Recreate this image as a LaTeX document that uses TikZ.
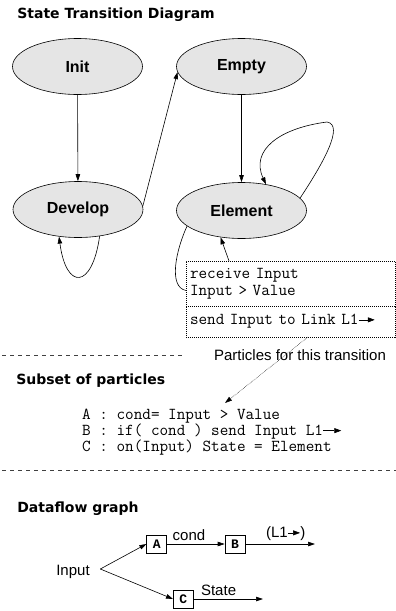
\documentclass[tikz,border=0pt]{standalone}
\usepackage{fontspec}
\setmainfont{Liberation Sans}
\newfontfamily\headfont{DejaVu Sans}
\newfontfamily\boxfont{Liberation Mono}
\usepackage{xcolor}
\usepackage{tikz}
\usetikzlibrary{arrows.meta,positioning,shapes.geometric}

\newcommand{\lnkarrow}[1][16pt]{\tikz[baseline=-0.3em]\draw[-{Triangle[length=7pt,width=5pt]},line width=0.6pt,solid] (0pt,0pt) -- (#1,0pt);}

\begin{document}
\begin{tikzpicture}[
		x                       = 1pt,
		y                       = -1pt,
		line width              = 0.6pt,
		>                       = {Triangle[length=7pt,width=4.5pt]},
		state/.style            = {ellipse, draw, fill=black!10, minimum width=130pt, minimum height=56pt, inner sep=0pt, font=\fontsize{16}{18}\selectfont\bfseries},
		heading/.style          = {anchor=base west, inner sep=0pt, font=\headfont\fontsize{14}{16}\selectfont\bfseries},
		tbox/.style             = {draw, dash pattern=on 1pt off 1pt, outer sep=0pt, inner xsep=4pt, inner ysep=0pt, text width=201pt, align=left, font=\ttfamily\fontsize{16.7}{17}\selectfont},
		fbox/.style             = {draw, minimum width=20pt, minimum height=18pt, inner sep=0pt, font=\boxfont\bfseries\fontsize{13}{13}\selectfont},
		sep/.style              = {draw=black!75, dash pattern=on 4pt off 4pt},
		every node/.style       = {font=\fontsize{15}{17}\selectfont}
		]
		\useasboundingbox (0,0) rectangle (396,611);

		\node[heading] at (17,18) {State Transition Diagram};
		\node[state] (init) at (77.5,66.5) {Init};
		\node[state] (empty) at (241.5,66.5) {Empty};
		\node[state] (develop) at (78,209.5) {Develop};
		\node[state] (element) at (241.5,210.5) {Element};

		\draw[->] (init) -- (develop);
		\draw[->] (empty) -- (element);
		\draw[->] (develop.3) -- (empty.185);
		\draw[->] (develop.-51) .. controls (92,290) and (66,290) .. (develop.-125);
		\draw[->] (element.12) .. controls (322,165) and (345,125) .. (327,122)
			.. controls (280,128) and (250,150) .. (element.47);

		\node[tbox, minimum height=45pt] (recv) at (290.5,283.5) {receive Input\\Input > Value};
		\node[tbox, minimum height=31pt, below=0pt of recv] (send) {send Input to Link L1\lnkarrow};
		\draw (element.196) .. controls (176,250) and (168,287) .. ([yshift=-7pt]recv.west);
		\draw[->] ([xshift=43pt]recv.north west) -- (element.-128);

		\draw[sep] (2,355) -- (184,355);
		\node (particles) at (300,355) {Particles for this transition};

		\node[heading] at (16,384) {Subset of particles};
		\node[anchor=north west, inner sep=0pt, align=left, font=\ttfamily\fontsize{16.7}{16}\selectfont] (code) at (82,409)
			{A : cond= Input > Value\\B : if( cond ) send Input L1\lnkarrow[18pt]\\C : on(Input) State = Element};
		\draw[->, densely dotted, line width=0.5pt] ([xshift=122pt]send.south west) -- ([xshift=143pt,yshift=6pt]code.north west);

		\draw[sep] (2,470) -- (396,470);

		\node[heading] at (17,512) {Dataflow graph};
		\node (input) at (73,572) {Input};
		\coordinate (fork) at ([xshift=7pt,yshift=3pt]input.east);
		\node[fbox] (a) at (156.7,544) {A};
		\node[fbox] (b) at (235,544) {B};
		\node[fbox] (c) at (183.3,599) {C};
		\coordinate (bout) at (315,544);
		\coordinate (cout) at (263,599);

		\draw[->] (fork) -- (a.west);
		\draw[->] (fork) -- (c.west);
		\draw[->] (a) -- node[above, pos=0.38]{cond} (b);
		\draw[->] (b) -- node[above, pos=0.58]{(L1\lnkarrow[12pt])} (bout);
		\draw[->] (c) -- node[above, pos=0.36]{State} (cout);
	\end{tikzpicture}
\end{document}
